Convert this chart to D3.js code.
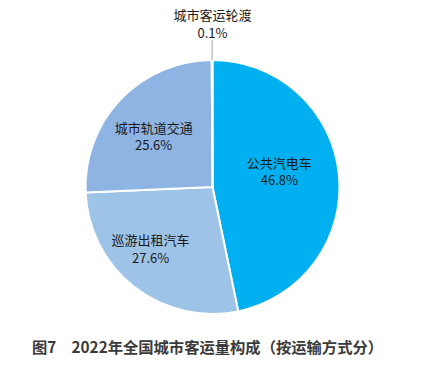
<!DOCTYPE html>
<html><head><meta charset="utf-8">
<script src="https://cdn.jsdelivr.net/npm/d3@7"></script>
<style>body{margin:0;background:#fff;}svg{display:block;}</style>
</head><body>
<svg id="chart" width="421" height="369"></svg>
<script>
const categories = ["公共汽电车", "巡游出租汽车", "城市轨道交通", "城市客运轮渡"];
const values = [46.8, 27.6, 25.6, 0.1];
const labels = ["46.8%", "27.6%", "25.6%", "0.1%"];
const colors = ["#00B0F0", "#9DC3E6", "#8EB4E3", "#8EB4E3"];
const title = "图7\u2002\u20022022年全国城市客运量构成（按运输方式分）";

const svg = d3.select("#chart");
const cx = 212.5, cy = 187, r = 127;
const g = svg.append("g").attr("transform", `translate(${cx},${cy})`);
const pie = d3.pie().sort(null).value(d => d)(values);
const arc = d3.arc().innerRadius(0).outerRadius(r);
g.selectAll("path").data(pie).join("path")
  .attr("d", arc).attr("fill", (d, i) => colors[i])
  .attr("stroke", "#fff").attr("stroke-width", 2).attr("stroke-linejoin", "round");

const font = "'Microsoft YaHei','Noto Sans CJK SC',sans-serif";
// inner label placement: radius fraction and angle shift (degrees)
const labelFrac = [0.54, 0.69, 0.61];
const labelShift = [-7, 7, -3];
pie.slice(0, 3).forEach((d, i) => {
  const a = (d.startAngle + d.endAngle) / 2 + labelShift[i] * Math.PI / 180;
  const lr = r * labelFrac[i];
  const x = Math.sin(a) * lr, y = -Math.cos(a) * lr;
  const t = g.append("text").attr("text-anchor", "middle")
    .attr("font-family", font).attr("font-size", 13).attr("fill", "#1a1a1a");
  t.append("tspan").attr("x", x).attr("y", y - 4).text(categories[i]);
  t.append("tspan").attr("x", x).attr("y", y + 13.5).text(labels[i]);
});
// ferry label with leader
const fd = pie[3];
const fa = (fd.startAngle + fd.endAngle) / 2;
g.append("line").attr("x1", Math.sin(fa) * r).attr("y1", -Math.cos(fa) * r)
  .attr("x2", Math.sin(fa) * r).attr("y2", -r - 20)
  .attr("stroke", "#A6A6A6").attr("stroke-width", 1);
const ft = g.append("text").attr("text-anchor", "middle")
  .attr("font-family", font).attr("font-size", 13).attr("fill", "#1a1a1a");
ft.append("tspan").attr("x", 0).attr("y", -r - 45 + 4.5).text(categories[3]);
ft.append("tspan").attr("x", 0).attr("y", -r - 27 + 4.5).text(labels[3]);

svg.append("text").attr("x", 207.5).attr("y", 353).attr("text-anchor", "middle")
  .attr("font-family", font).attr("font-size", 15.3).attr("font-weight", "bold")
  .attr("fill", "#3a3a3a").text(title);
</script>
</body></html>
